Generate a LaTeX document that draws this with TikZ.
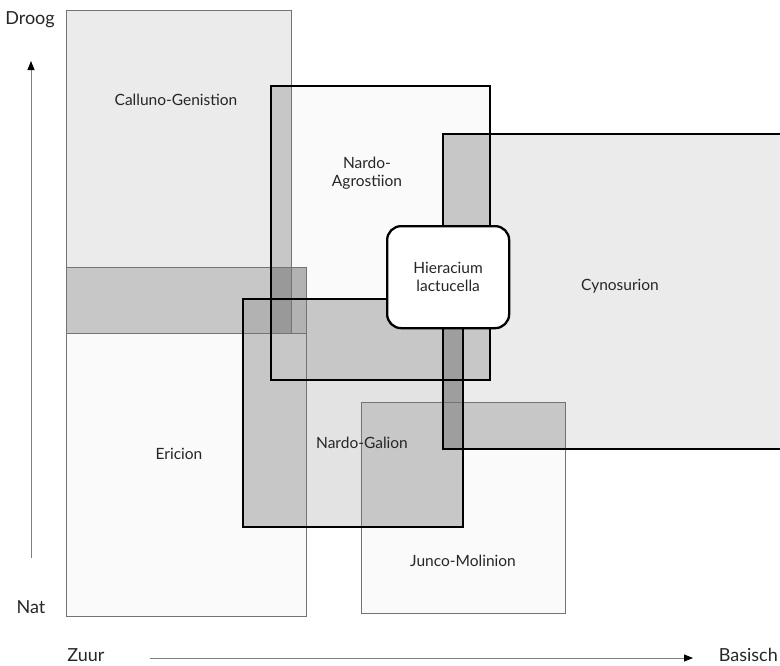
\documentclass[tikz,border=0pt]{standalone}
\usepackage{fontspec}
\setmainfont{Lato}
\usetikzlibrary{arrows.meta}
\newcommand{\veld}[1]{(#1.north west) rectangle (#1.south east)}

\tikzset{
  gebied/.style={inner sep=0pt,outer sep=0pt,anchor=north west},
  dunrand/.style={draw=black!55,line width=1pt},
  dikrand/.style={draw=black,line width=2.3pt},
  lbl/.style={font=\fontsize{15.5}{18}\selectfont,text=black!85,align=center},
  as/.style={font=\fontsize{18}{20}\selectfont,text=black!85},
  pijl/.style={draw=black!50,line width=0.9pt,-{Triangle[width=7pt,length=9pt,color=black]}}
}

\begin{document}
\begin{tikzpicture}[x=1pt,y=-1pt]
  \useasboundingbox (0,0) rectangle (780,665);
  % vegetation fields
  \node[gebied,minimum width=225pt,minimum height=323pt] (cal) at (66,10) {};
  \node[gebied,minimum width=240pt,minimum height=349pt] (eric) at (66,267) {};
  \node[gebied,minimum width=240pt,minimum height=66pt] (band) at (66,267) {};
  \node[gebied,minimum width=219pt,minimum height=294pt] (na) at (271,86) {};
  \node[gebied,minimum width=220pt,minimum height=228pt] (ng) at (243,299) {};
  \node[gebied,minimum width=360pt,minimum height=315pt] (cyn) at (443,134) {};
  \node[gebied,minimum width=204pt,minimum height=211pt] (junco) at (361,402) {};

  % fills, alone
  \fill[black!8] \veld{cal} \veld{cyn};
  \fill[black!2] \veld{eric} \veld{na} \veld{junco};
  \fill[black!11] \veld{ng};
  % overlaps
  \fill[black!22] \veld{band};
  \foreach \a/\b in {cal/na,ng/eric,ng/na,ng/junco,na/cyn,junco/cyn}{
    \begin{scope}
      \clip \veld{\a};
      \fill[black!22] \veld{\b};
    \end{scope}
  }
  \foreach \a/\b in {band/na,band/ng}{
    \begin{scope}
      \clip \veld{\a};
      \fill[black!30] \veld{\b};
    \end{scope}
  }
  \begin{scope}
    \clip \veld{cal};
    \clip \veld{band};
    \fill[black!40] \veld{na};
  \end{scope}
  \begin{scope}
    \clip \veld{ng};
    \fill[black!38] \veld{cyn};
  \end{scope}

  % borders
  \draw[dunrand] \veld{cal} \veld{eric} \veld{band} \veld{junco};
  \draw[dikrand] \veld{na} \veld{ng} \veld{cyn};

  \node[dikrand,fill=white,rounded corners=14pt,inner sep=0pt,minimum width=122pt,minimum height=102pt,anchor=north west] (hier) at (386,225) {};

  % labels
  \node[lbl] (lcal) at (176,100) {Calluno-Genistion};
  \node[lbl] (lna) at (367,173) {Nardo-\\Agrostiion};
  \node[lbl] (lhier) at (hier) {Hieracium\\lactucella};
  \node[lbl] (lcyn) at (620,286) {Cynosurion};
  \node[lbl] (leric) at (179,454) {Ericion};
  \node[lbl] (lng) at (362,443) {Nardo-Galion};
  \node[lbl] (ljunco) at (463,561) {Junco-Molinion};

  % axes
  \node[as] (droog) at (30,20) {Droog};
  \node[as] (nat) at (31,607) {Nat};
  \node[as] (zuur) at (86,655) {Zuur};
  \node[as,anchor=east,inner sep=0pt] (basisch) at (778,655) {Basisch};
  \coordinate (yonder) at (31,558);
  \coordinate (yboven) at (31,61);
  \coordinate (xlinks) at (150,658);
  \coordinate (xrechts) at (693,658);
  \draw[pijl] (yonder) -- (yboven);
  \draw[pijl] (xlinks) -- (xrechts);
\end{tikzpicture}
\end{document}
